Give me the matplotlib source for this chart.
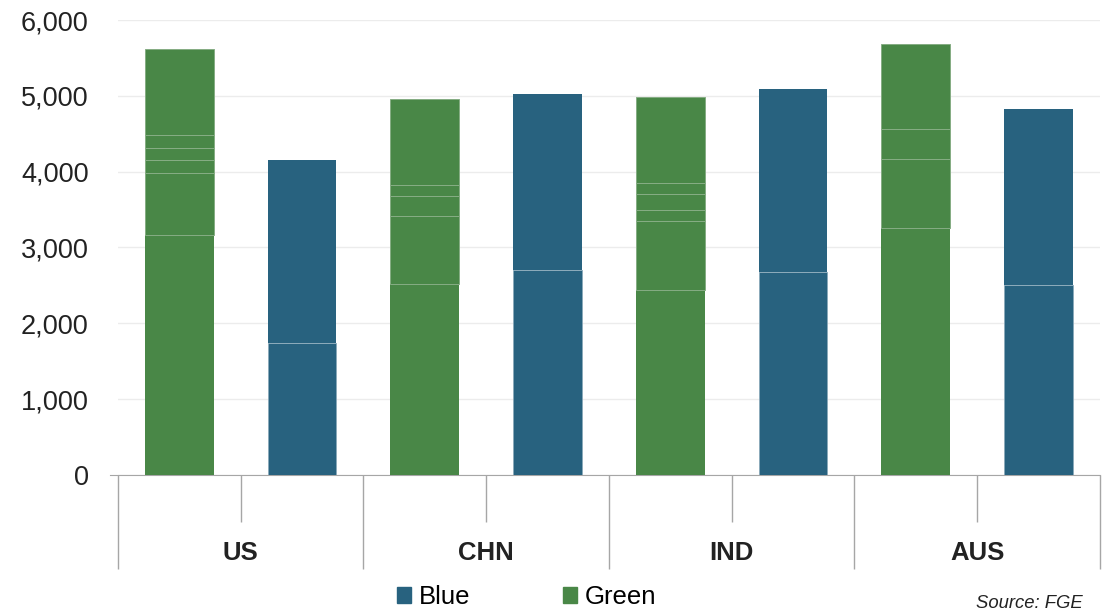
import numpy as np
import matplotlib.pyplot as plt
from matplotlib.patches import Patch

# countries and the two bars per country
countries = ["US", "CHN", "IND", "AUS"]
series = ["Green", "Blue"]

# stack levels (bottom -> top) for each bar
green_levels = {
    "US":  [3170, 3980, 4160, 4310, 4480, 5620],
    "CHN": [2520, 3420, 3675, 3820, 4960],
    "IND": [2440, 3345, 3495, 3700, 3845, 4990],
    "AUS": [3255, 4165, 4560, 5690],
}
blue_levels = {
    "US":  [1740, 4155],
    "CHN": [2700, 5025],
    "IND": [2675, 5090],
    "AUS": [2505, 4825],
}

yticks = [0, 1000, 2000, 3000, 4000, 5000, 6000]

green = '#498747'
blue = '#28627f'

plt.rcParams['font.family'] = ['Liberation Sans', 'DejaVu Sans']

fig = plt.figure(figsize=(11.07, 6.12), dpi=100)
ax = fig.add_axes([0.1066, 0.2239, 0.887, 0.7434])

width = 0.56
pos = 0
for c in countries:
    for s in series:
        levels = green_levels[c] if s == "Green" else blue_levels[c]
        bottoms = [0] + levels[:-1]
        heights = np.diff([0] + levels)
        for i, (b, h) in enumerate(zip(bottoms, heights)):
            if s == "Green":
                if i == 0:
                    ax.bar(pos, h, bottom=b, width=width, color=green, linewidth=0, zorder=3)
                else:
                    ax.bar(pos, h, bottom=b, width=width, color=green,
                           edgecolor='#86ad84', linewidth=0.7, zorder=3)
            else:
                if i == 0:
                    ax.bar(pos, h, bottom=b, width=width, color=blue,
                           edgecolor='#8aa9ba', linewidth=0.6, zorder=3)
                else:
                    ax.bar(pos, h, bottom=b, width=width, color=blue, linewidth=0, zorder=3)
        pos += 1

ax.set_xlim(-0.5, 7.5)
ax.set_ylim(0, 6000)
ax.set_yticks(yticks)
ax.set_yticklabels([f"{v:,}" for v in yticks], fontsize=19.5, color='#222222')
ax.yaxis.grid(True, color='#ececec', linewidth=1, zorder=0)
ax.tick_params(axis='y', length=0, pad=21)

for side in ['left', 'right', 'top']:
    ax.spines[side].set_visible(False)
ax.spines['bottom'].set_color('#a6a6a6')
ax.spines['bottom'].set_bounds(-0.565, 7.5)

# group boundaries (long ticks) and slot centres (short ticks)
ax.set_xticks([-0.5, 1.5, 3.5, 5.5, 7.5])
ax.set_xticklabels([])
ax.set_xticks([0.5, 2.5, 4.5, 6.5], minor=True)
ax.tick_params(axis='x', which='major', length=68, color='#a6a6a6', width=1)
ax.tick_params(axis='x', which='minor', length=34, color='#a6a6a6', width=1)

for i, c in enumerate(countries):
    ax.text(2 * i + 0.5, -0.172, c, transform=ax.get_xaxis_transform(),
            ha='center', va='center', fontsize=18.5, fontweight='bold', color='#222222')

handles = [Patch(color=blue, label='Blue'), Patch(color=green, label='Green')]
fig.legend(handles=handles, loc='center', bbox_to_anchor=(0.476, 0.024), ncol=2,
           frameon=False, fontsize=18.5, handlelength=0.55, handleheight=0.55,
           handletextpad=0.3, columnspacing=3.6, borderaxespad=0)

fig.text(0.978, 0.0, 'Source: FGE', ha='right', va='bottom', fontsize=13.3,
         style='italic', color='#222222')

fig.savefig('out.png', dpi=100)
